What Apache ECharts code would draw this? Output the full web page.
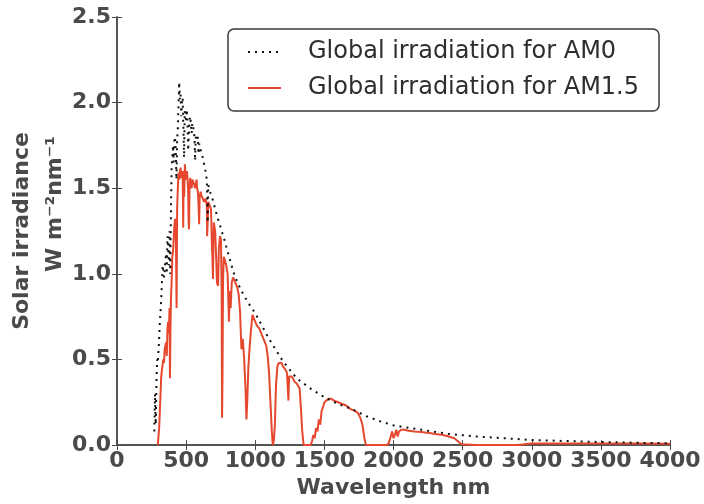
<!DOCTYPE html>
<html>
<head>
<meta charset="utf-8">
<script src="https://cdn.jsdelivr.net/npm/echarts@6/dist/echarts.min.js"></script>
<style>html,body{margin:0;padding:0;background:#fff}#c{width:704px;height:504px}</style>
</head>
<body>
<div id="c"></div>
<script>
// ---- data ----
const xTicks = [0, 500, 1000, 1500, 2000, 2500, 3000, 3500, 4000];
const yTicks = [0.0, 0.5, 1.0, 1.5, 2.0, 2.5];

const am0Wavelength = [270,275,280,285,290,295,300,305,310,315,320,325,330,335,340,345,350,355,360,365,370,375,380,385,390,395,400,405,410,415,420,425,430,435,440,445,450,455,460,465,470,475,480,485,490,495,500,505,510,515,520,525,530,535,540,545,550,555,560,565,570,575,580,585,590,595,600,610,620,630,640,650,656,660,670,680,690,700,720,750,780,800,850,900,950,1000,1100,1200,1300,1400,1500,1600,1700,1800,1900,2000,2200,2400,2600,2800,3000,3200,3500,3800,4000];
const am0Irradiance = [0.08,0.30,0.12,0.35,0.50,0.48,0.55,0.62,0.72,0.78,0.85,0.95,1.05,1.05,0.98,1.02,1.08,1.12,1.00,1.22,1.15,1.05,1.25,1.00,1.35,1.62,1.68,1.75,1.65,1.78,1.80,1.72,1.55,1.78,1.85,1.98,2.12,2.02,2.05,1.92,2.00,2.03,2.02,1.68,1.95,1.92,1.90,1.96,1.88,1.72,1.82,1.90,1.92,1.87,1.82,1.88,1.86,1.84,1.80,1.66,1.80,1.79,1.78,1.80,1.70,1.76,1.74,1.71,1.68,1.64,1.60,1.55,1.30,1.52,1.49,1.46,1.44,1.41,1.35,1.27,1.19,1.13,0.99,0.90,0.83,0.77,0.62,0.49,0.39,0.33,0.28,0.24,0.21,0.17,0.14,0.115,0.09,0.065,0.05,0.04,0.03,0.025,0.018,0.013,0.011];

const am15Wavelength = [295,300,305,310,315,320,325,330,335,340,345,350,355,360,365,370,375,380,383,386,390,395,400,405,410,415,420,425,431,435,440,445,450,455,460,465,470,475,479,482,486,491,495,500,505,510,515,518,521,525,530,535,540,545,550,555,560,565,570,575,580,585,590,594,598,605,610,620,630,640,650,652,656,660,670,680,687,690,694,700,710,718,723,731,737,745,752,757,760,763,767,772,780,790,800,810,815,822,830,840,850,860,870,880,890,900,910,920,930,936,942,950,960,970,980,990,1000,1010,1020,1030,1040,1050,1060,1070,1080,1090,1100,1110,1120,1127,1135,1142,1150,1160,1170,1180,1190,1200,1210,1220,1230,1240,1245,1255,1265,1273,1285,1300,1310,1321,1330,1340,1350,1360,1380,1400,1410,1420,1430,1440,1450,1460,1470,1480,1490,1500,1515,1530,1550,1570,1600,1630,1660,1690,1720,1740,1760,1775,1790,1800,1850,1900,1950,1965,1980,1990,2000,2010,2020,2030,2040,2055,2080,2100,2150,2200,2260,2300,2350,2400,2440,2470,2490,2500,2600,2700,2800,2900,2950,3000,3200,3500,3800,4000];
const am15Irradiance = [0.0,0.0,0.10,0.20,0.30,0.40,0.44,0.47,0.50,0.48,0.56,0.58,0.60,0.52,0.68,0.72,0.65,0.80,0.39,0.62,0.85,0.95,1.10,1.13,1.20,1.28,1.32,1.30,0.80,1.38,1.50,1.59,1.55,1.60,1.62,1.56,1.58,1.60,1.27,1.58,1.45,1.64,1.58,1.55,1.60,1.56,1.48,1.30,1.26,1.52,1.56,1.52,1.50,1.55,1.54,1.53,1.52,1.50,1.52,1.55,1.50,1.48,1.40,1.29,1.45,1.48,1.46,1.45,1.42,1.44,1.40,1.22,1.30,1.42,1.40,1.38,1.15,1.10,0.97,1.30,1.25,1.08,0.95,0.93,1.15,1.22,1.20,0.90,0.16,0.40,0.95,1.10,1.08,1.05,1.00,0.72,0.90,0.80,0.95,0.98,0.96,0.95,0.92,0.88,0.78,0.56,0.62,0.50,0.32,0.15,0.25,0.45,0.58,0.68,0.76,0.74,0.73,0.70,0.70,0.68,0.66,0.64,0.63,0.60,0.58,0.52,0.42,0.25,0.08,0.0,0.03,0.12,0.35,0.46,0.48,0.47,0.48,0.46,0.45,0.44,0.42,0.26,0.40,0.41,0.40,0.39,0.37,0.36,0.35,0.33,0.22,0.08,0.0,0.0,0.0,0.0,0.02,0.06,0.04,0.10,0.08,0.15,0.12,0.20,0.22,0.25,0.26,0.27,0.27,0.26,0.25,0.24,0.23,0.21,0.20,0.19,0.16,0.12,0.04,0.0,0.0,0.0,0.0,0.01,0.05,0.08,0.04,0.06,0.09,0.05,0.08,0.09,0.09,0.085,0.08,0.077,0.07,0.065,0.06,0.05,0.04,0.02,0.005,0.0,0.0,0.0,0.0,0.0,0.005,0.01,0.01,0.01,0.01,0.008];

const seriesNames = ['Global irradiation for AM0', 'Global irradiation for AM1.5'];
const xTitle = 'Wavelength nm';
const yTitle1 = 'Solar irradiance';
const yTitle2 = 'W m\u207B\u00B2nm\u207B\u00B9';

// ---- chart ----
const am0Data = am0Wavelength.map((w, i) => [w, am0Irradiance[i]]);
const am15Data = am15Wavelength.map((w, i) => [w, am15Irradiance[i]]);
const axisColor = '#4a4a4a';
const labelFont = 'DejaVu Sans';

const chart = echarts.init(document.getElementById('c'), null, {renderer: 'canvas'});
chart.setOption({
  animation: false,
  backgroundColor: '#ffffff',
  grid: {left: 117, right: 34, top: 17, bottom: 57, containLabel: false},
  legend: {
    orient: 'vertical', left: 228, top: 29,
    data: seriesNames,
    backgroundColor: '#ffffff',
    borderColor: '#3a3a3a', borderWidth: 1.5, borderRadius: 6,
    padding: [11, 20, 11, 19],
    itemWidth: 33, itemHeight: 24, itemGap: 12,
    itemStyle: {opacity: 0},
    textStyle: {fontFamily: labelFont, fontSize: 24, color: '#2e2e2e', padding: [0, 0, 0, 22]}
  },
  xAxis: [{
    type: 'value', min: xTicks[0], max: xTicks[xTicks.length - 1], interval: 500,
    name: xTitle, nameLocation: 'middle', nameGap: 30,
    nameTextStyle: {fontFamily: labelFont, fontWeight: 'bold', fontSize: 22, color: axisColor},
    axisLine: {show: true, lineStyle: {color: axisColor, width: 1.5}},
    axisTick: {show: true, inside: true, length: 5, lineStyle: {color: axisColor}},
    axisLabel: {fontFamily: labelFont, fontWeight: 'bold', fontSize: 22, color: axisColor, margin: 5,
      showMinLabel: true, showMaxLabel: true, hideOverlap: false, interval: 0,
      formatter: v => String(v)},
    splitLine: {show: false}
  }, {
    type: 'value', position: 'top', min: xTicks[0], max: xTicks[xTicks.length - 1], interval: 500,
    axisLine: {show: true, lineStyle: {color: axisColor, width: 1.5}},
    axisTick: {show: true, inside: true, length: 5, lineStyle: {color: axisColor}},
    axisLabel: {show: false}, splitLine: {show: false}
  }],
  yAxis: [{
    type: 'value', min: yTicks[0], max: yTicks[yTicks.length - 1], interval: 0.5,
    axisLine: {show: true, lineStyle: {color: axisColor, width: 1.5}},
    axisTick: {show: true, inside: true, length: 5, lineStyle: {color: axisColor}},
    axisLabel: {fontFamily: labelFont, fontWeight: 'bold', fontSize: 22, color: axisColor, margin: 6,
      formatter: v => v.toFixed(1)},
    splitLine: {show: false}
  }, {
    type: 'value', position: 'right', min: yTicks[0], max: yTicks[yTicks.length - 1], interval: 0.5,
    axisLine: {show: true, lineStyle: {color: axisColor, width: 1.5}},
    axisTick: {show: true, inside: true, length: 5, lineStyle: {color: axisColor}},
    axisLabel: {show: false}, splitLine: {show: false}
  }],
  graphic: [
    {type: 'text', x: 22, y: 231, rotation: Math.PI / 2,
      style: {text: yTitle1, fontFamily: labelFont, fontWeight: 'bold', fontSize: 22, fill: axisColor,
        align: 'center', verticalAlign: 'middle'}},
    {type: 'text', x: 55, y: 204, rotation: Math.PI / 2,
      style: {text: yTitle2, fontFamily: labelFont, fontWeight: 'bold', fontSize: 22, fill: axisColor,
        align: 'center', verticalAlign: 'middle'}}
  ],
  series: [{
    name: seriesNames[0], type: 'line', data: am0Data, symbol: 'none', z: 3,
    lineStyle: {color: '#111111', width: 2, type: [2, 5]},
    itemStyle: {color: '#111111'}
  }, {
    name: seriesNames[1], type: 'line', data: am15Data, symbol: 'none', z: 2,
    lineStyle: {color: '#e5482f', width: 2},
    itemStyle: {color: '#e5482f'}
  }]
});
</script>
</body>
</html>
